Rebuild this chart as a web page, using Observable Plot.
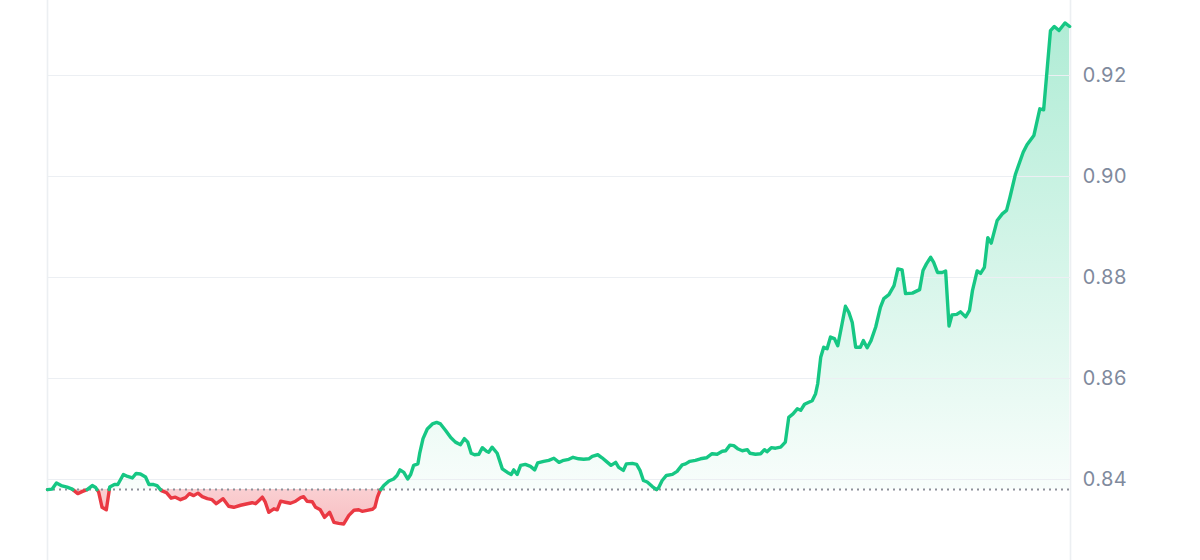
<!DOCTYPE html>
<html>
<head>
<meta charset="utf-8">
<script src="https://cdn.jsdelivr.net/npm/d3@7"></script>
<script src="https://cdn.jsdelivr.net/npm/@observablehq/plot@0.6"></script>
<style>
  html, body { margin: 0; padding: 0; background: #ffffff; }
  #chart svg { display: block; }
</style>
</head>
<body>
<div id="chart"></div>
<script>
// Time of day (hours) and price
const times = [0, 0.11, 0.21, 0.32, 0.46, 0.58, 0.71, 0.81, 0.93, 1.05, 1.13, 1.20, 1.28, 1.38, 1.46, 1.57, 1.65, 1.78, 1.88, 1.99,
  2.08, 2.18, 2.30, 2.38, 2.49, 2.57, 2.67, 2.79, 2.90, 3.00, 3.12, 3.24, 3.33, 3.43, 3.53, 3.63, 3.75, 3.86, 3.96, 4.12,
  4.25, 4.37, 4.53, 4.69, 4.80, 4.88, 4.98, 5.04, 5.11, 5.19, 5.31, 5.39, 5.47, 5.58, 5.70, 5.82, 5.94, 6.01, 6.09, 6.21,
  6.29, 6.40, 6.50, 6.62, 6.72, 6.83, 6.95, 7.07, 7.19, 7.30, 7.38, 7.50, 7.62, 7.68, 7.74, 7.80, 7.89, 8.01, 8.12, 8.20,
  8.27, 8.36, 8.45, 8.52, 8.59, 8.69, 8.73, 8.81, 8.91, 9.03, 9.13, 9.22, 9.34, 9.46, 9.57, 9.69, 9.78, 9.86, 9.94, 10.02,
  10.12, 10.20, 10.30, 10.35, 10.43, 10.55, 10.67, 10.79, 10.88, 10.94, 11.02, 11.10, 11.21, 11.33, 11.43, 11.50, 11.64, 11.76, 11.88, 12.00,
  12.11, 12.23, 12.33, 12.46, 12.58, 12.70, 12.78, 12.91, 13.01, 13.11, 13.22, 13.33, 13.40, 13.51, 13.58, 13.72, 13.82, 13.90, 13.98, 14.07,
  14.19, 14.29, 14.34, 14.42, 14.52, 14.66, 14.77, 14.89, 14.97, 15.07, 15.20, 15.32, 15.46, 15.59, 15.71, 15.83, 15.91, 16.01, 16.10, 16.19,
  16.30, 16.42, 16.48, 16.61, 16.73, 16.82, 16.88, 16.98, 17.08, 17.20, 17.31, 17.39, 17.49, 17.59, 17.67, 17.76, 17.86, 17.94, 18.02, 18.07,
  18.14, 18.21, 18.29, 18.37, 18.46, 18.54, 18.64, 18.72, 18.80, 18.88, 18.96, 19.07, 19.14, 19.23, 19.32, 19.43, 19.54, 19.62, 19.74, 19.86,
  19.95, 20.05, 20.13, 20.29, 20.46, 20.54, 20.62, 20.72, 20.79, 20.88, 20.99, 21.07, 21.15, 21.22, 21.33, 21.42, 21.54, 21.63, 21.70, 21.81,
  21.89, 21.98, 22.06, 22.14, 22.28, 22.40, 22.50, 22.58, 22.71, 22.89, 22.98, 23.14, 23.28, 23.37, 23.45, 23.53, 23.62, 23.73, 23.87, 23.98];

const prices = [0.8380, 0.8381, 0.8393, 0.8388, 0.8385, 0.8381, 0.8372, 0.8376, 0.8380, 0.8388, 0.8384, 0.8375, 0.8345, 0.8340, 0.8385, 0.8390, 0.8390, 0.8410, 0.8406, 0.8403,
  0.8412, 0.8411, 0.8405, 0.8390, 0.8390, 0.8388, 0.8378, 0.8374, 0.8363, 0.8365, 0.8360, 0.8364, 0.8372, 0.8368, 0.8373, 0.8366, 0.8362, 0.8360, 0.8352, 0.8362,
  0.8347, 0.8345, 0.8349, 0.8352, 0.8354, 0.8352, 0.8360, 0.8365, 0.8355, 0.8335, 0.8342, 0.8340, 0.8357, 0.8355, 0.8353, 0.8357, 0.8364, 0.8366, 0.8357, 0.8356,
  0.8345, 0.8340, 0.8325, 0.8335, 0.8315, 0.8313, 0.8312, 0.8329, 0.8339, 0.8340, 0.8337, 0.8339, 0.8341, 0.8345, 0.8365, 0.8378, 0.8388, 0.8397, 0.8401, 0.8408,
  0.8419, 0.8414, 0.8401, 0.8410, 0.8428, 0.8431, 0.8451, 0.8481, 0.8500, 0.8510, 0.8513, 0.8510, 0.8497, 0.8483, 0.8474, 0.8469, 0.8481, 0.8474, 0.8452, 0.8449,
  0.8450, 0.8463, 0.8456, 0.8454, 0.8464, 0.8452, 0.8421, 0.8414, 0.8410, 0.8419, 0.8410, 0.8428, 0.8430, 0.8426, 0.8419, 0.8433, 0.8436, 0.8438, 0.8442, 0.8434,
  0.8438, 0.8440, 0.8444, 0.8441, 0.8440, 0.8441, 0.8446, 0.8449, 0.8443, 0.8436, 0.8428, 0.8434, 0.8424, 0.8418, 0.8431, 0.8432, 0.8430, 0.8418, 0.8398, 0.8395,
  0.8386, 0.8380, 0.8384, 0.8398, 0.8408, 0.8410, 0.8416, 0.8429, 0.8431, 0.8436, 0.8438, 0.8441, 0.8443, 0.8451, 0.8450, 0.8456, 0.8457, 0.8468, 0.8467, 0.8461,
  0.8457, 0.8459, 0.8452, 0.8450, 0.8451, 0.8459, 0.8455, 0.8463, 0.8462, 0.8464, 0.8474, 0.8523, 0.8530, 0.8540, 0.8537, 0.8549, 0.8553, 0.8556, 0.8570, 0.8590,
  0.8642, 0.8662, 0.8659, 0.8682, 0.8679, 0.8665, 0.8708, 0.8743, 0.8731, 0.8711, 0.8662, 0.8662, 0.8675, 0.8661, 0.8675, 0.8702, 0.8741, 0.8758, 0.8766, 0.8784,
  0.8817, 0.8815, 0.8768, 0.8769, 0.8776, 0.8814, 0.8827, 0.8840, 0.8830, 0.8810, 0.8810, 0.8813, 0.8704, 0.8726, 0.8727, 0.8732, 0.8722, 0.8735, 0.8774, 0.8813,
  0.8808, 0.8820, 0.8879, 0.8868, 0.8913, 0.8926, 0.8933, 0.8959, 0.9005, 0.9048, 0.9063, 0.9081, 0.9134, 0.9132, 0.9210, 0.9289, 0.9297, 0.9289, 0.9304, 0.9297];

const baseline = 0.8380;          // opening price (dotted reference)
const yTicks = [0.84, 0.86, 0.88, 0.90, 0.92];
const xDomain = [0, 24];
const yDomain = [0.82396, 0.93485];

const GREEN = "#16c784";
const RED = "#ea3943";

// Build series, inserting the points where the line crosses the baseline
const pts = [];
for (let i = 0; i < times.length; i++) {
  pts.push({t: times[i], v: prices[i]});
  if (i < times.length - 1) {
    const a = prices[i] - baseline, b = prices[i + 1] - baseline;
    if (a * b < 0) {
      const f = a / (a - b);
      pts.push({t: times[i] + (times[i + 1] - times[i]) * f, v: baseline});
    }
  }
}
const up = pts.map(p => ({t: p.t, y: p.v >= baseline ? p.v : NaN}));
const down = pts.map(p => ({t: p.t, y: p.v <= baseline ? p.v : NaN}));

const chart = Plot.plot({
  width: 1200,
  height: 560,
  marginLeft: 47,
  marginRight: 130,
  marginTop: 0,
  marginBottom: 0,
  style: {fontFamily: "Inter, 'Noto Sans', sans-serif", background: "#ffffff", overflow: "visible"},
  x: {domain: xDomain, axis: null},
  y: {domain: yDomain, axis: null},
  marks: [
    Plot.areaY(pts, {x: "t", y1: () => baseline, y2: d => Math.max(d.v, baseline), fill: "url(#upGrad)", curve: "linear"}),
    Plot.areaY(pts, {x: "t", y1: () => baseline, y2: d => Math.min(d.v, baseline), fill: "url(#downGrad)", curve: "linear"}),
    Plot.gridY(yTicks, {stroke: "#eceff3", strokeOpacity: 1, strokeWidth: 1.2}),
    Plot.ruleX(xDomain, {stroke: "#eceff2", strokeWidth: 1.6}),
    Plot.ruleY([baseline], {stroke: "#8c9099", strokeWidth: 2, strokeDasharray: "2,4"}),
    Plot.line(down, {x: "t", y: "y", stroke: RED, strokeWidth: 3.4, strokeLinejoin: "round", strokeLinecap: "round"}),
    Plot.line(up, {x: "t", y: "y", stroke: GREEN, strokeWidth: 3.4, strokeLinejoin: "round", strokeLinecap: "round"}),
    Plot.axisY(yTicks, {anchor: "right", tickSize: 0, tickPadding: 12, label: null, fontSize: 20, fill: "#808a9d", tickFormat: d3.format(".2f")})
  ]
});

// gradient definitions
const ns = "http://www.w3.org/2000/svg";
const defs = document.createElementNS(ns, "defs");
function grad(id, stops) {
  const g = document.createElementNS(ns, "linearGradient");
  g.setAttribute("id", id);
  g.setAttribute("x1", "0"); g.setAttribute("y1", "0");
  g.setAttribute("x2", "0"); g.setAttribute("y2", "1");
  for (const [off, color, op] of stops) {
    const s = document.createElementNS(ns, "stop");
    s.setAttribute("offset", off);
    s.setAttribute("stop-color", color);
    s.setAttribute("stop-opacity", op);
    g.appendChild(s);
  }
  defs.appendChild(g);
}
grad("upGrad", [["0", GREEN, 0.34], ["1", GREEN, 0.03]]);
grad("downGrad", [["0", RED, 0.24], ["1", RED, 0.32]]);
chart.insertBefore(defs, chart.firstChild);

document.getElementById("chart").appendChild(chart);
</script>
</body>
</html>
